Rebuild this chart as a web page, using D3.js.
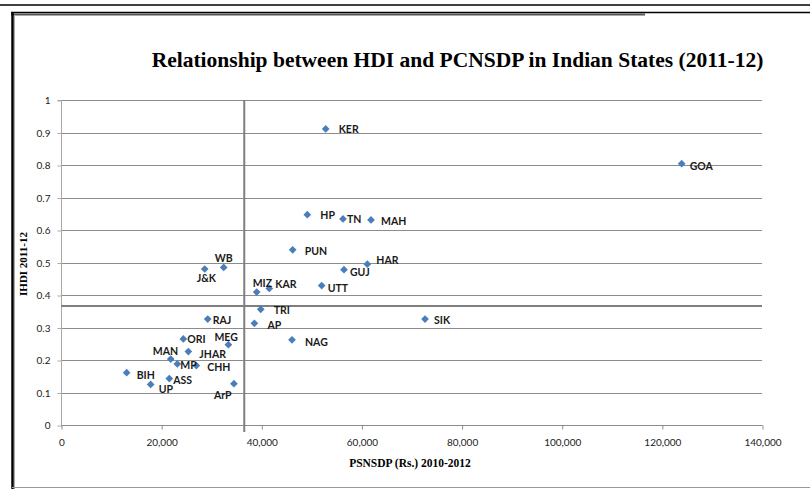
<!DOCTYPE html>
<html>
<head>
<meta charset="utf-8">
<script src="https://cdn.jsdelivr.net/npm/d3@7"></script>
<style>
  html, body { margin: 0; padding: 0; background: #fff; }
  svg { display: block; }
</style>
</head>
<body>
<svg id="chart" width="810" height="489"></svg>
<script>
// ---- DATA ----
const titleText = "Relationship between HDI and PCNSDP in Indian States (2011-12)";
const xAxisTitle = "PSNSDP (Rs.) 2010-2012";
const yAxisTitle = "IHDI 2011-12";
const states = ["KER","GOA","HP","TN","MAH","PUN","HAR","GUJ","UTT","SIK","NAG","WB","J&K","MIZ","KAR","TRI","AP","RAJ","MEG","ORI","JHAR","MAN","MP","CHH","BIH","ASS","UP","ArP"];
const pcnsdp = [52860,123960,49190,56320,61910,46270,61180,56520,52060,72700,46130,32490,28700,39080,41600,39890,38620,29300,33430,24430,25430,21910,23230,27030,13110,21630,17910,34540];
const ihdi = [0.911,0.804,0.647,0.634,0.631,0.539,0.495,0.478,0.429,0.326,0.262,0.485,0.480,0.409,0.420,0.356,0.313,0.326,0.247,0.265,0.226,0.203,0.188,0.183,0.161,0.143,0.125,0.127];
const xTicks = [0,20000,40000,60000,80000,100000,120000,140000];
const yTicks = [0,0.1,0.2,0.3,0.4,0.5,0.6,0.7,0.8,0.9,1];
const meanX = 36600;
const meanY = 0.366;

// ---- LABEL PLACEMENT (style, px offsets from marker) ----
const labelOffsets = {
  "KER":[13,0],"GOA":[8,2],"HP":[13,0],"TN":[4,0],"MAH":[10,1],"PUN":[12,1],
  "HAR":[9,-4],"GUJ":[6,2],"UTT":[6,2],"SIK":[9,1],"NAG":[13,2],"WB":[-9,-9],
  "J&K":[-8,9],"MIZ":[-4,-9],"KAR":[6,-5],"TRI":[13,1],"AP":[13,2],"RAJ":[5,1],
  "MEG":[-14,-8],"ORI":[4,0],"JHAR":[11,2],"MAN":[-18,-8],"MP":[3,1],"CHH":[11,1],
  "BIH":[10,2],"ASS":[4,1],"UP":[8,5],"ArP":[-20,11]
};

const svg = d3.select("#chart");

// ---- frame ----
svg.append("line").attr("x1",0).attr("x2",810).attr("y1",5).attr("y2",5)
  .attr("stroke","#000").attr("stroke-width",1.5);
svg.append("line").attr("x1",11).attr("x2",810).attr("y1",12.5).attr("y2",12.5)
  .attr("stroke","#000").attr("stroke-width",1.5);
svg.append("line").attr("x1",11).attr("x2",645).attr("y1",14.5).attr("y2",14.5)
  .attr("stroke","#555").attr("stroke-width",2);
svg.append("line").attr("x1",12.5).attr("x2",12.5).attr("y1",12).attr("y2",489)
  .attr("stroke","#000").attr("stroke-width",2.5);
svg.append("line").attr("x1",14.5).attr("x2",14.5).attr("y1",16).attr("y2",489)
  .attr("stroke","#aaa").attr("stroke-width",1);
svg.append("line").attr("x1",12).attr("x2",810).attr("y1",487.5).attr("y2",487.5)
  .attr("stroke","#999").attr("stroke-width",1);

// ---- scales ----
const x = d3.scaleLinear().domain([0,140000]).range([61,762]);
const y = d3.scaleLinear().domain([0,1]).range([425,100]);

// gridlines
svg.append("g").selectAll("line").data(yTicks.filter(d=>d>0)).join("line")
  .attr("x1",x(0)).attr("x2",x(140000))
  .attr("y1",d=>Math.round(y(d))+0.5).attr("y2",d=>Math.round(y(d))+0.5)
  .attr("stroke","#8c8c8c").attr("stroke-width",1);

// y axis
const yAxis = d3.axisLeft(y).tickValues(yTicks).tickSize(4).tickPadding(7)
  .tickFormat(d=>d3.format("")(+d.toFixed(1)));
const gy = svg.append("g").attr("transform",`translate(${x(0)+0.5},0.5)`).call(yAxis);
gy.select(".domain").attr("stroke","#a8a8a8").attr("d",`M-4,${y(1)}H0V${y(0)}`);
gy.selectAll(".tick line").attr("stroke","#a8a8a8");
gy.selectAll(".tick text").attr("font-family","Lato, 'Open Sans', sans-serif")
  .attr("font-size",10).attr("fill","#222");

// x axis
const xAxis = d3.axisBottom(x).tickValues(xTicks).tickSize(4).tickPadding(9)
  .tickFormat(d3.format(","));
const gx = svg.append("g").attr("transform",`translate(0.5,${Math.round(y(0))+0.5})`).call(xAxis);
gx.select(".domain").attr("stroke","#8c8c8c").attr("d",`M${x(0)},0H${x(140000)}`);
gx.selectAll(".tick line").attr("stroke","#8c8c8c");
gx.selectAll(".tick text").attr("font-family","Lato, 'Open Sans', sans-serif")
  .attr("font-size",10).attr("fill","#222");

// mean lines
svg.append("line").attr("x1",x(0)).attr("x2",x(140000))
  .attr("y1",y(meanY)).attr("y2",y(meanY))
  .attr("stroke","#7f7f7f").attr("stroke-width",2);
svg.append("line").attr("x1",x(meanX)).attr("x2",x(meanX))
  .attr("y1",y(1)).attr("y2",y(0)+7)
  .attr("stroke","#7f7f7f").attr("stroke-width",2);

// points
const pts = states.map((s,i)=>({name:s, px:pcnsdp[i], hdi:ihdi[i]}));
const diamond = d3.symbol().type(d3.symbolDiamond2).size(38);
svg.append("g").selectAll("path").data(pts).join("path")
  .attr("d",diamond)
  .attr("transform",d=>`translate(${x(d.px)},${y(d.hdi)})`)
  .attr("fill","#4a7ebb");

// labels
svg.append("g").selectAll("text").data(pts).join("text")
  .attr("x",d=>x(d.px)+labelOffsets[d.name][0])
  .attr("y",d=>y(d.hdi)+labelOffsets[d.name][1])
  .attr("dominant-baseline","central")
  .attr("font-family","Lato, 'Open Sans', sans-serif")
  .attr("font-weight","bold").attr("font-size",10.5).attr("fill","#1a1a1a")
  .text(d=>d.name);

// titles
svg.append("text").attr("x",457.5).attr("y",60)
  .attr("text-anchor","middle").attr("dominant-baseline","central")
  .attr("font-family","'Liberation Serif', 'Times New Roman', serif")
  .attr("font-weight","bold").attr("font-size",21.5).attr("fill","#000")
  .text(titleText);
svg.append("text").attr("x",410).attr("y",463)
  .attr("text-anchor","middle").attr("dominant-baseline","central")
  .attr("font-family","'Liberation Serif', 'Times New Roman', serif")
  .attr("font-weight","bold").attr("font-size",11.5).attr("fill","#000")
  .text(xAxisTitle);
svg.append("text").attr("transform","translate(23,264) rotate(-90)")
  .attr("text-anchor","middle").attr("dominant-baseline","central")
  .attr("font-family","'Liberation Serif', 'Times New Roman', serif")
  .attr("font-weight","bold").attr("font-size",11).attr("fill","#000")
  .text(yAxisTitle);
</script>
</body>
</html>
